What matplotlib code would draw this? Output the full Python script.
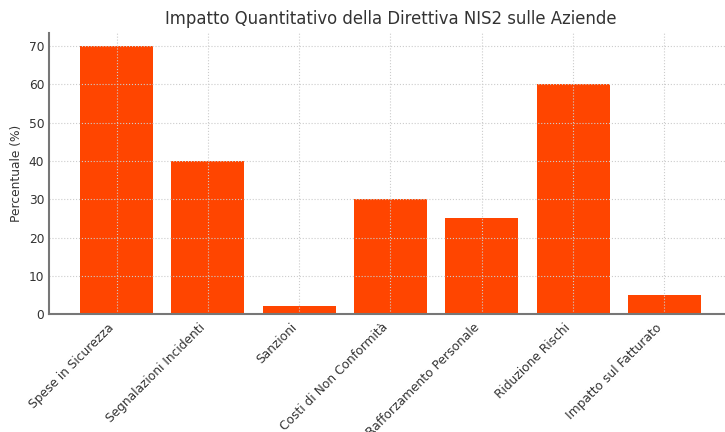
import matplotlib
matplotlib.use('Agg')
import matplotlib.pyplot as plt

# data
categorie = ['Spese in Sicurezza', 'Segnalazioni Incidenti', 'Sanzioni',
             'Costi di Non Conformità', 'Rafforzamento Personale',
             'Riduzione Rischi', 'Impatto sul Fatturato']
percentuali = [70, 40, 2, 30, 25, 60, 5]
yticks = [0, 10, 20, 30, 40, 50, 60, 70]

fig = plt.figure(figsize=(7.25, 4.32), dpi=100)
# axes runs slightly past the right edge, as in the reference
ax = fig.add_axes([0.0676, 0.273, 0.942, 0.651])

ax.bar(categorie, percentuali, width=0.8, color='#FF4500')

ax.set_title('Impatto Quantitativo della Direttiva NIS2 sulle Aziende',
             fontsize=11.9, color='#333333')
ax.set_ylabel('Percentuale (%)', fontsize=8.8, color='#333333')
ax.set_yticks(yticks)
ax.tick_params(axis='both', length=0, labelsize=8.8, colors='#333333')
ax.tick_params(axis='x', pad=5)
plt.setp(ax.get_xticklabels(), rotation=45, ha='right')

ax.grid(True, linestyle=':', color='#cccccc', linewidth=0.8)
for s in ['top', 'right']:
    ax.spines[s].set_visible(False)
for s in ['left', 'bottom']:
    ax.spines[s].set_color('#777777')
    ax.spines[s].set_linewidth(1.5)

fig.savefig('out.png', dpi=100)
